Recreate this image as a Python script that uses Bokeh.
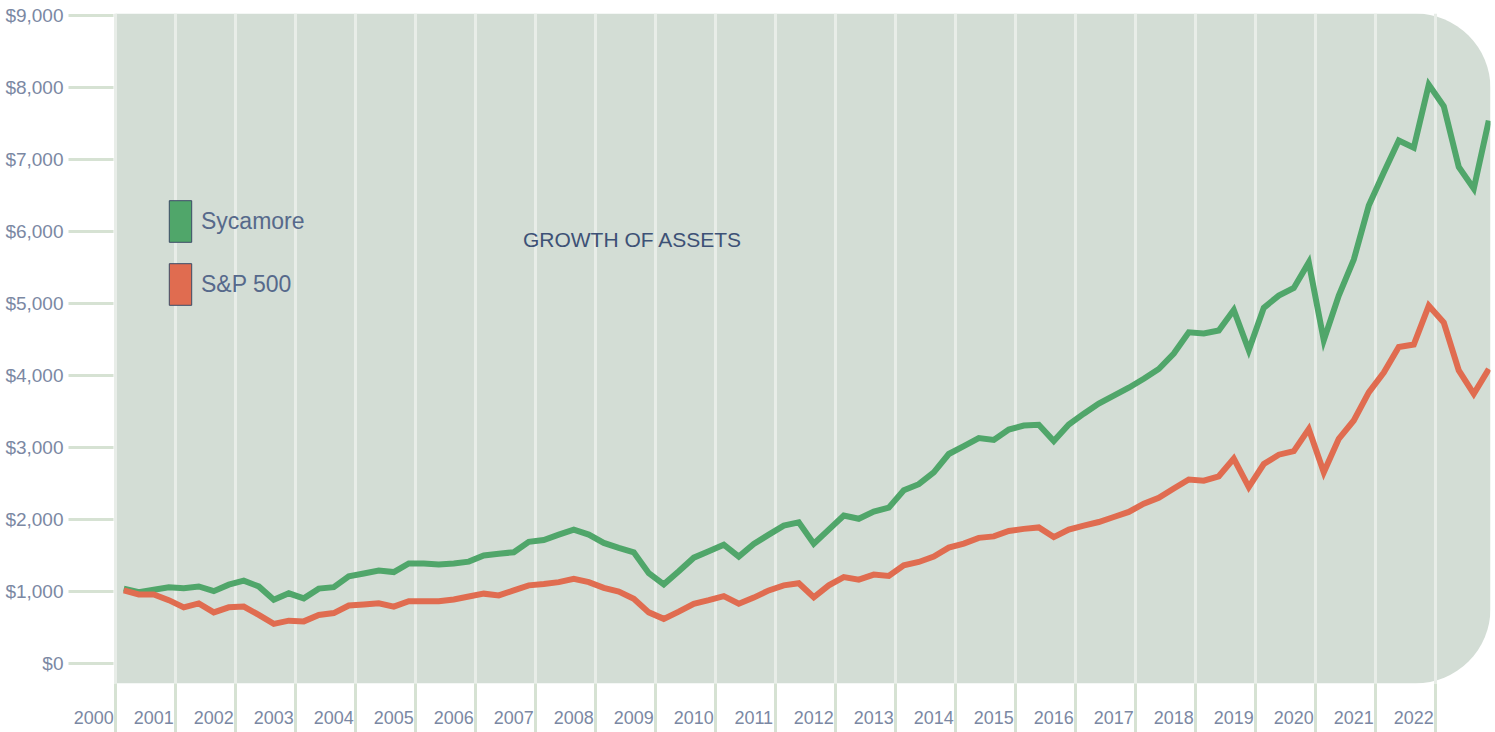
import numpy as np
from bokeh.plotting import figure
from bokeh.models import Range1d, FixedTicker, BoxAnnotation, Label, Legend, LegendItem
from bokeh.embed import file_html
from bokeh.resources import INLINE

# ---------------- data ----------------
# quarter-end dates (fractional years), mid-2000 .. early 2023
quarters = [2000.5 + 0.25 * i for i in range(92)]

sycamore = [
    1040, 990, 1025, 1060, 1045, 1070, 1005, 1095, 1150, 1070,
    885, 975, 905, 1040, 1060, 1210, 1250, 1290, 1270, 1390,
    1390, 1375, 1390, 1415, 1500, 1525, 1545, 1690, 1715, 1790,
    1860, 1790, 1675, 1605, 1545, 1255, 1100, 1280, 1470, 1560,
    1650, 1485, 1660, 1790, 1915, 1960, 1665, 1860, 2055, 2010,
    2110, 2165, 2405, 2490, 2655, 2910, 3020, 3130, 3105, 3250,
    3305, 3315, 3090, 3320, 3470, 3610, 3720, 3830, 3955, 4090,
    4305, 4600, 4585, 4625, 4910, 4350, 4940, 5110, 5215, 5570,
    4490, 5110, 5610, 6360, 6820, 7265, 7165, 8040, 7740, 6895,
    6595, 7540,
]

sp500 = [
    1015, 960, 960, 880, 780, 835, 710, 780, 790, 675,
    550, 595, 585, 675, 700, 805, 820, 835, 790, 865,
    865, 865, 890, 930, 970, 945, 1015, 1085, 1105, 1130,
    1175, 1130, 1050, 1000, 900, 710, 620, 720, 830, 880,
    935, 830, 915, 1015, 1085, 1115, 920, 1085, 1200, 1165,
    1235, 1215, 1365, 1410, 1485, 1610, 1665, 1745, 1765, 1840,
    1870, 1890, 1755, 1860, 1915, 1965, 2035, 2105, 2220, 2300,
    2430, 2555, 2540, 2600, 2845, 2450, 2770, 2900, 2950, 3255,
    2655, 3120, 3375, 3765, 4040, 4395, 4430, 4970, 4735, 4070,
    3745, 4090,
]

years = list(range(2000, 2023))
year_labels = [str(y) for y in years]
y_ticks = [0, 1000, 2000, 3000, 4000, 5000, 6000, 7000, 8000, 9000]
y_tick_labels = ["$0", "$1,000", "$2,000", "$3,000", "$4,000",
                 "$5,000", "$6,000", "$7,000", "$8,000", "$9,000"]
series_names = ["Sycamore", "S&P 500"]
chart_title = "GROWTH OF ASSETS"

# ---------------- style ----------------
GREEN = "#50a66a"
RED = "#e06c50"
PANEL = "#d3ddd5"
GRID = "#e8ede8"
TICK = "#d6e2d3"
AXIS_TEXT = "#7b88a3"
LEGEND_TEXT = "#56698b"
TITLE_TEXT = "#3d5176"
FONT = "Liberation Sans"

PX_PER_YEAR = 60.0
X0 = 2000.362                       # left edge of the grey panel
XS = X0 - 47 / PX_PER_YEAR          # frame starts left of the panel (room for "2000")
XE = X0 + 1375 / PX_PER_YEAR
Y0, Y1 = -277.8, 9027.8

p = figure(width=1495, height=732,
           x_range=Range1d(XS, XE), y_range=Range1d(Y0, Y1),
           output_backend="svg", toolbar_location=None,
           min_border_left=68, min_border_right=5,
           min_border_top=13, min_border_bottom=49)
p.background_fill_color = "white"
p.border_fill_color = "white"
p.outline_line_color = None

# rounded grey panel
box = BoxAnnotation(left=X0, right=XE, bottom=Y0, top=Y1,
                    fill_color=PANEL, fill_alpha=1.0, line_color=None,
                    border_radius=(0, 75, 75, 0), level="underlay")
p.center = [box] + list(p.center)

grid_pos = [X0 + k + 0.001 for k in range(len(years))]

# vertical grid lines
p.xgrid[0].ticker = FixedTicker(ticks=grid_pos)
p.xgrid[0].grid_line_color = GRID
p.xgrid[0].grid_line_width = 3
p.ygrid[0].grid_line_color = None

# x axis: labels at years, tick marks (minor) at grid positions
xa = p.xaxis[0]
xa.ticker = FixedTicker(ticks=years, minor_ticks=grid_pos)
xa.major_label_overrides = {y: s for y, s in zip(years, year_labels)}
xa.axis_line_color = None
xa.major_tick_line_color = None
xa.major_tick_out = 0
xa.major_tick_in = 0
xa.minor_tick_line_color = TICK
xa.minor_tick_line_width = 3
xa.minor_tick_out = 49
xa.minor_tick_in = 0
xa.major_label_standoff = -22
xa.major_label_text_font = FONT
xa.major_label_text_font_size = "18px"
xa.major_label_text_color = AXIS_TEXT

# y axis: tick marks drawn inward across the white strip left of the panel
ya = p.yaxis[0]
ya.ticker = FixedTicker(ticks=y_ticks)
ya.major_label_overrides = {t: s for t, s in zip(y_ticks, y_tick_labels)}
ya.axis_line_color = None
ya.major_tick_line_color = TICK
ya.major_tick_line_width = 3
ya.major_tick_out = 0
ya.major_tick_in = 45
ya.minor_tick_line_color = None
ya.major_label_standoff = 5
ya.major_label_text_font = FONT
ya.major_label_text_font_size = "19px"
ya.major_label_text_color = AXIS_TEXT

# series
p.line(quarters, sycamore, line_color=GREEN, line_width=6, line_join="miter")
p.line(quarters, sp500, line_color=RED, line_width=6, line_join="miter")

# legend swatches (renderers with no visible geometry)
q1 = p.quad(left=[np.nan], right=[np.nan], top=[np.nan], bottom=[np.nan],
            fill_color=GREEN, line_color="#3b4a66", line_width=1)
q2 = p.quad(left=[np.nan], right=[np.nan], top=[np.nan], bottom=[np.nan],
            fill_color=RED, line_color="#3b4a66", line_width=1)
legend = Legend(items=[LegendItem(label=series_names[0], renderers=[q1]),
                       LegendItem(label=series_names[1], renderers=[q2])],
                location=(98, 373), orientation="vertical",
                glyph_width=28, glyph_height=52, label_height=52,
                spacing=11, label_standoff=7, padding=0, margin=0,
                border_line_color=None, background_fill_alpha=0,
                label_text_font=FONT, label_text_font_size="23px",
                label_text_color=LEGEND_TEXT)
p.add_layout(legend)

# title inside the panel
p.add_layout(Label(x=2008.98, y=5889, text=chart_title,
                   text_align="center", text_baseline="middle",
                   text_font=FONT, text_font_size="21px",
                   text_color=TITLE_TEXT))

open("out.html", "w").write(file_html(p, INLINE))
